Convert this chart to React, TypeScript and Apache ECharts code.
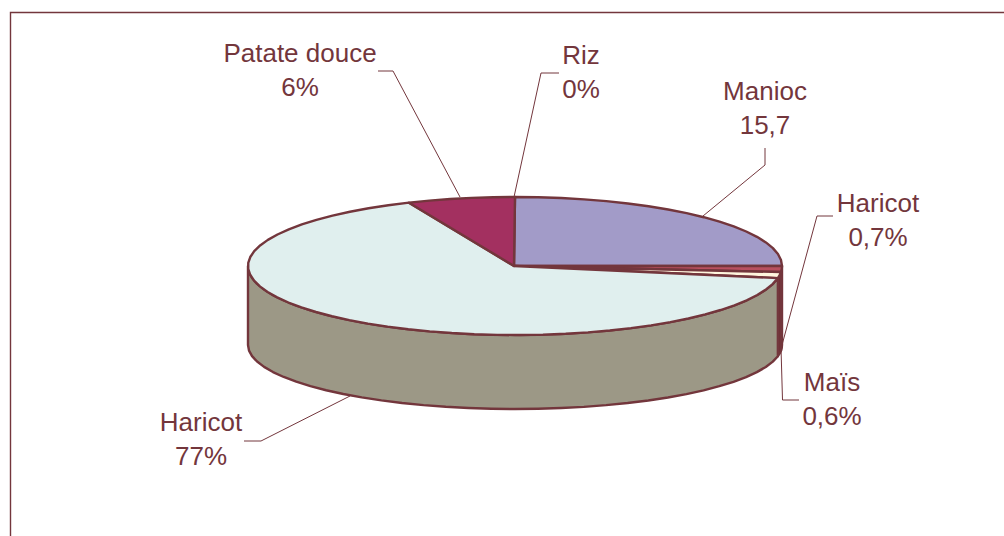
import React, { useEffect, useRef } from "react";
import * as echarts from "echarts";

const categories = ["Manioc", "Haricot", "Maïs", "Haricot", "Patate douce", "Riz"];
// Share of the drawn pie (the printed labels differ from the drawn slices)
const drawnShares = [25.0, 1.4, 1.4, 65.7, 6.5, 0];
const labelValues = ["15,7", "0,7%", "0,6%", "77%", "6%", "0%"];
const topColors = ["#A29BC8", "#B9505F", "#FFF6DE", "#E0EFEE", "#A33060", "#7A2F3A"];
const wallColors = ["#6F3038", "#6F3038", "#6F3038", "#9C9886", "#7A2440", "#6F3038"];

const INK = "#73363C";
const APEX_X = 514;
const CX = 515;
const CY = 266;
const RX = 267;
const RY = 69;
const BOTTOM_CY = 345;
const BOTTOM_RY = 64;
const ARC_STEP = 5;

const labelLayout = [
  { x: 765, y: 91, leader: [[765, 148], [765, 165], [703, 216]] },
  { x: 878, y: 203, leader: [[833, 216], [817, 216], [782, 345]] },
  { x: 832, y: 382, leader: [[781, 348], [782.5, 400], [799, 400]] },
  { x: 201, y: 422, leader: [[244, 441], [261, 441], [350, 396]] },
  { x: 300, y: 53, leader: [[378, 71], [393, 71], [460, 197]] },
  { x: 581, y: 55, leader: [[559, 73], [541, 73], [514, 197]] },
];

const startOf = (i: number) => {
  const total = drawnShares.reduce((a, b) => a + b, 0);
  return (drawnShares.slice(0, i).reduce((a, b) => a + b, 0) / total) * 360;
};

const rimPoint = (deg: number, cy = CY, ry = RY): number[] => {
  const r = (deg * Math.PI) / 180;
  return [CX + RX * Math.sin(r), cy - ry * Math.cos(r)];
};

const arc = (a: number, b: number, cy = CY, ry = RY) => {
  const n = Math.max(1, Math.ceil(Math.abs(b - a) / ARC_STEP));
  const pts: number[][] = [];
  for (let k = 0; k <= n; k++) pts.push(rimPoint(a + ((b - a) * k) / n, cy, ry));
  return pts;
};

const renderTop = (params: any, api: any) => {
  const i = params.dataIndex;
  const share = api.value(0);
  if (!share) return null;
  const a = startOf(i);
  const b = a + (share / 100) * 360;
  return {
    type: "polygon",
    shape: { points: [[APEX_X, CY], ...arc(a, b)] },
    style: { fill: topColors[i], stroke: INK, lineWidth: 2.4, lineJoin: "round" },
  };
};

const renderWall = (params: any, api: any) => {
  const i = params.dataIndex;
  const share = api.value(0);
  const a = Math.max(startOf(i), 90);
  const b = Math.min(startOf(i) + (share / 100) * 360, 270);
  if (!share || b <= a) return null;
  const top = arc(a, b);
  const bottom = arc(a, b, BOTTOM_CY, BOTTOM_RY).reverse();
  return {
    type: "polygon",
    shape: { points: [...top, ...bottom] },
    style: { fill: wallColors[i], stroke: INK, lineWidth: 2.4, lineJoin: "round" },
  };
};

const seriesData = drawnShares.map((v, i) => ({ name: categories[i], value: v }));

export default function App() {
  const ref = useRef<HTMLDivElement>(null);
  useEffect(() => {
    const chart = echarts.init(ref.current!, null, { renderer: "svg" });
    const leaders = labelLayout.map((l) => ({
      type: "polyline",
      shape: { points: l.leader },
      style: { stroke: INK, lineWidth: 1, fill: "none" },
      z: 10,
    }));
    const texts = labelLayout.flatMap((l, i) =>
      [categories[i], labelValues[i]].map((t, k) => ({
        type: "text",
        x: l.x,
        y: l.y + k * 34,
        style: {
          text: t,
          fill: INK,
          font: '26px "Liberation Sans", Arial, sans-serif',
          textAlign: "center",
          textVerticalAlign: "middle",
        },
        z: 11,
      }))
    );
    chart.setOption({
      animation: false,
      backgroundColor: "#ffffff",
      graphic: [
        {
          type: "polyline",
          shape: { points: [[10.5, 536], [10.5, 12.5], [1004, 12.5]] },
          style: { stroke: INK, lineWidth: 1.4, fill: "none" },
          z: 0,
        },
        ...leaders,
        ...texts,
      ],
      series: [
        { type: "custom", coordinateSystem: "none", renderItem: renderWall, data: seriesData, z: 2, silent: true },
        { type: "custom", coordinateSystem: "none", renderItem: renderTop, data: seriesData, z: 3, silent: true },
      ],
    });
    return () => chart.dispose();
  }, []);
  return <div ref={ref} style={{ position: "absolute", left: 0, top: 0, width: 1004, height: 536 }} />;
}
